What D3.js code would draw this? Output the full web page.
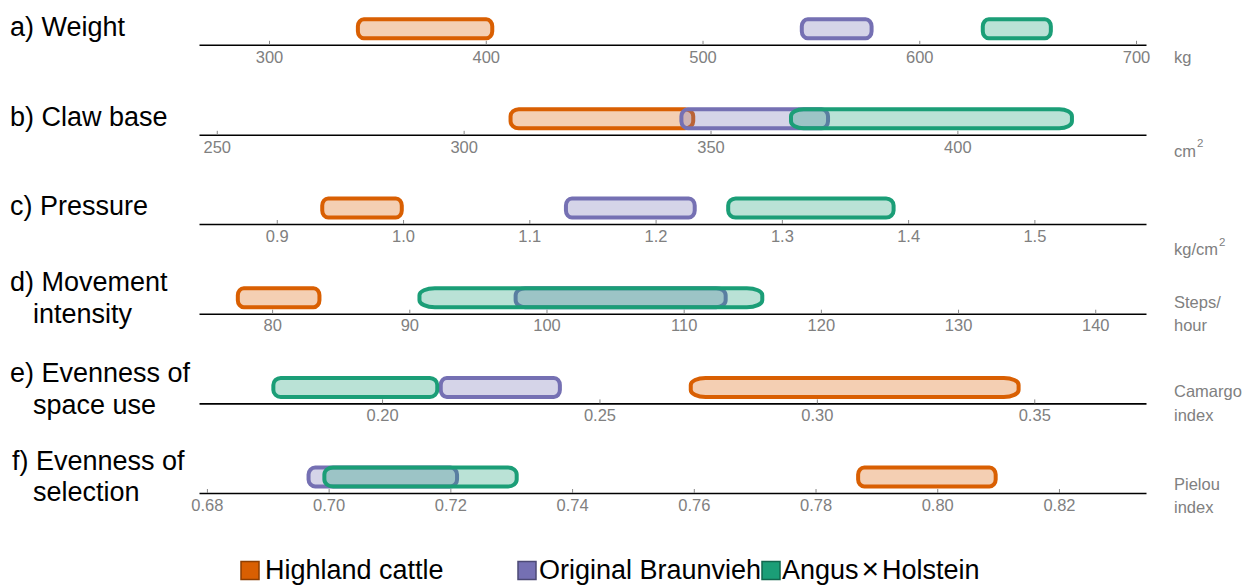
<!DOCTYPE html>
<html>
<head>
<meta charset="utf-8">
<script src="https://cdn.jsdelivr.net/npm/d3@7"></script>
<style>
  html, body { margin: 0; padding: 0; background: #fff; }
  svg { display: block; font-family: "Liberation Sans", Arial, sans-serif; }
</style>
</head>
<body>
<svg id="chart" width="1245" height="585"></svg>
<script>
// ---------------- DATA ----------------
const panelTitles = [
  ["a) Weight"],
  ["b) Claw base"],
  ["c) Pressure"],
  ["d) Movement", "intensity"],
  ["e) Evenness of", "space use"],
  ["f) Evenness of", "selection"]
];
const unitLabels = [
  ["kg"],
  ["cm|2"],
  ["kg/cm|2"],
  ["Steps/", "hour"],
  ["Camargo", "index"],
  ["Pielou", "index"]
];
const breeds = ["Highland cattle", "Original Braunvieh", "Angus×Holstein"];
const breedColors = ["#d95f02", "#7570b3", "#1b9e77"];

// interval lower / upper bounds per panel (a..f)
const highlandLow   = [341,   309.5, 0.936, 77.5,  0.2710, 0.7870];
const highlandHigh  = [403,   346.5, 0.999, 83.45, 0.3464, 0.8096];
const braunviehLow  = [545.8, 344.1, 1.129, 97.75, 0.2135, 0.6967];
const braunviehHigh = [578,   373.8, 1.231, 113.06,0.2409, 0.7211];
const angusLow      = [629.3, 366.3, 1.2575,90.74, 0.1750, 0.6993];
const angusHigh     = [660.7, 423.2, 1.3885,115.73,0.2127, 0.7309];

// axis extents per panel
const axisDomains = [
  [267.7, 704.6],
  [246.4, 438.2],
  [0.8384, 1.5884],
  [74.67, 143.7],
  [0.1579, 0.3757],
  [0.6787, 0.8343]
];
const tickValues = [
  [300, 400, 500, 600, 700],
  [250, 300, 350, 400],
  [0.9, 1.0, 1.1, 1.2, 1.3, 1.4, 1.5],
  [80, 90, 100, 110, 120, 130, 140],
  [0.20, 0.25, 0.30, 0.35],
  [0.68, 0.70, 0.72, 0.74, 0.76, 0.78, 0.80, 0.82]
];
const tickFormats = [".0f", ".0f", ".1f", ".0f", ".2f", ".2f"];

// ---------------- LAYOUT ----------------
const svg = d3.select("#chart");
svg.append("rect").attr("width", 1245).attr("height", 585).attr("fill", "#fff");

const xLeft = 199, xRight = 1146;
const axisY = [44.8, 134.8, 224, 313.7, 403.4, 493];
const unitOffsets = [[12], [16], [25], [-11, 11.5], [-12, 11.6], [-8.5, 14]];
const titleOffsets = [[-18], [-18], [-18], [-32, 0], [-31, 1], [-32, -1]];
const titleX = [10, 10, 10, 10, 10, 12];

const lows = [highlandLow, braunviehLow, angusLow];
const highs = [highlandHigh, braunviehHigh, angusHigh];

panelTitles.forEach((lines, i) => {
  const g = svg.append("g");
  const x = d3.scaleLinear().domain(axisDomains[i]).range([xLeft, xRight]);
  const y0 = axisY[i];

  // axis
  const axis = d3.axisBottom(x)
    .tickValues(tickValues[i])
    .tickFormat(d3.format(tickFormats[i]))
    .tickSizeInner(-4).tickSizeOuter(0).tickPadding(8);
  const ag = g.append("g").attr("transform", `translate(0,${y0})`).call(axis);
  ag.select(".domain").attr("stroke", "#000").attr("stroke-width", 1.6);
  ag.selectAll(".tick line").attr("stroke", "#888").attr("stroke-width", 1);
  ag.selectAll(".tick text")
    .attr("fill", "#808080").attr("font-size", 16.5)
    .attr("font-family", "'Liberation Sans', Arial, sans-serif")
    .attr("dy", "0.71em").attr("y", 6);

  // bars: orange, purple, green (green drawn last)
  const barTop = y0 - 25.5, barH = 19;
  breeds.forEach((b, k) => {
    const lo = lows[k][i], hi = highs[k][i];
    const x0 = x(lo), x1 = x(hi);
    const w = x1 - x0;
    g.append("rect")
      .attr("x", x0).attr("y", barTop)
      .attr("width", w).attr("height", barH)
      .attr("rx", Math.max(6, w * 0.045)).attr("ry", 7)
      .attr("fill", breedColors[k]).attr("fill-opacity", 0.3)
      .attr("stroke", breedColors[k]).attr("stroke-width", 4);
  });

  // title
  lines.forEach((t, j) => {
    g.append("text")
      .attr("x", j === 0 ? titleX[i] : 33)
      .attr("y", y0 + titleOffsets[i][j])
      .attr("dy", "0.35em")
      .attr("font-size", 27).attr("fill", "#000")
      .text(t);
  });

  // unit labels
  unitLabels[i].forEach((t, j) => {
    const parts = t.split("|");
    const tx = g.append("text")
      .attr("x", 1174)
      .attr("y", y0 + unitOffsets[i][j])
      .attr("dy", "0.35em")
      .attr("font-size", 16.5).attr("fill", "#808080");
    tx.append("tspan").text(parts[0]);
    if (parts[1]) {
      tx.append("tspan").attr("font-size", 11.5).attr("dy", "-0.8em").attr("dx", 1).text(parts[1]);
    }
  });
});

// legend
const legendX = [241, 518, 762];
const legendTextX = [265, 539, 782];
const legendY = 569.5;
breeds.forEach((b, k) => {
  svg.append("rect")
    .attr("x", legendX[k]).attr("y", legendY - 8)
    .attr("width", 18).attr("height", 18)
    .attr("fill", breedColors[k])
    .attr("stroke", d3.color(breedColors[k]).darker(1.2)).attr("stroke-width", 1.5);
  const t = svg.append("text")
    .attr("x", legendTextX[k]).attr("y", legendY)
    .attr("dy", "0.35em")
    .attr("font-size", 27).attr("fill", "#000");
  const parts = b.split("×");
  parts.forEach((p, j) => {
    if (j > 0) t.append("tspan").attr("dx", 3).attr("font-size", 30).text("×");
    t.append("tspan").attr("dx", j > 0 ? 3 : 0).text(p);
  });
});
</script>
</body>
</html>
